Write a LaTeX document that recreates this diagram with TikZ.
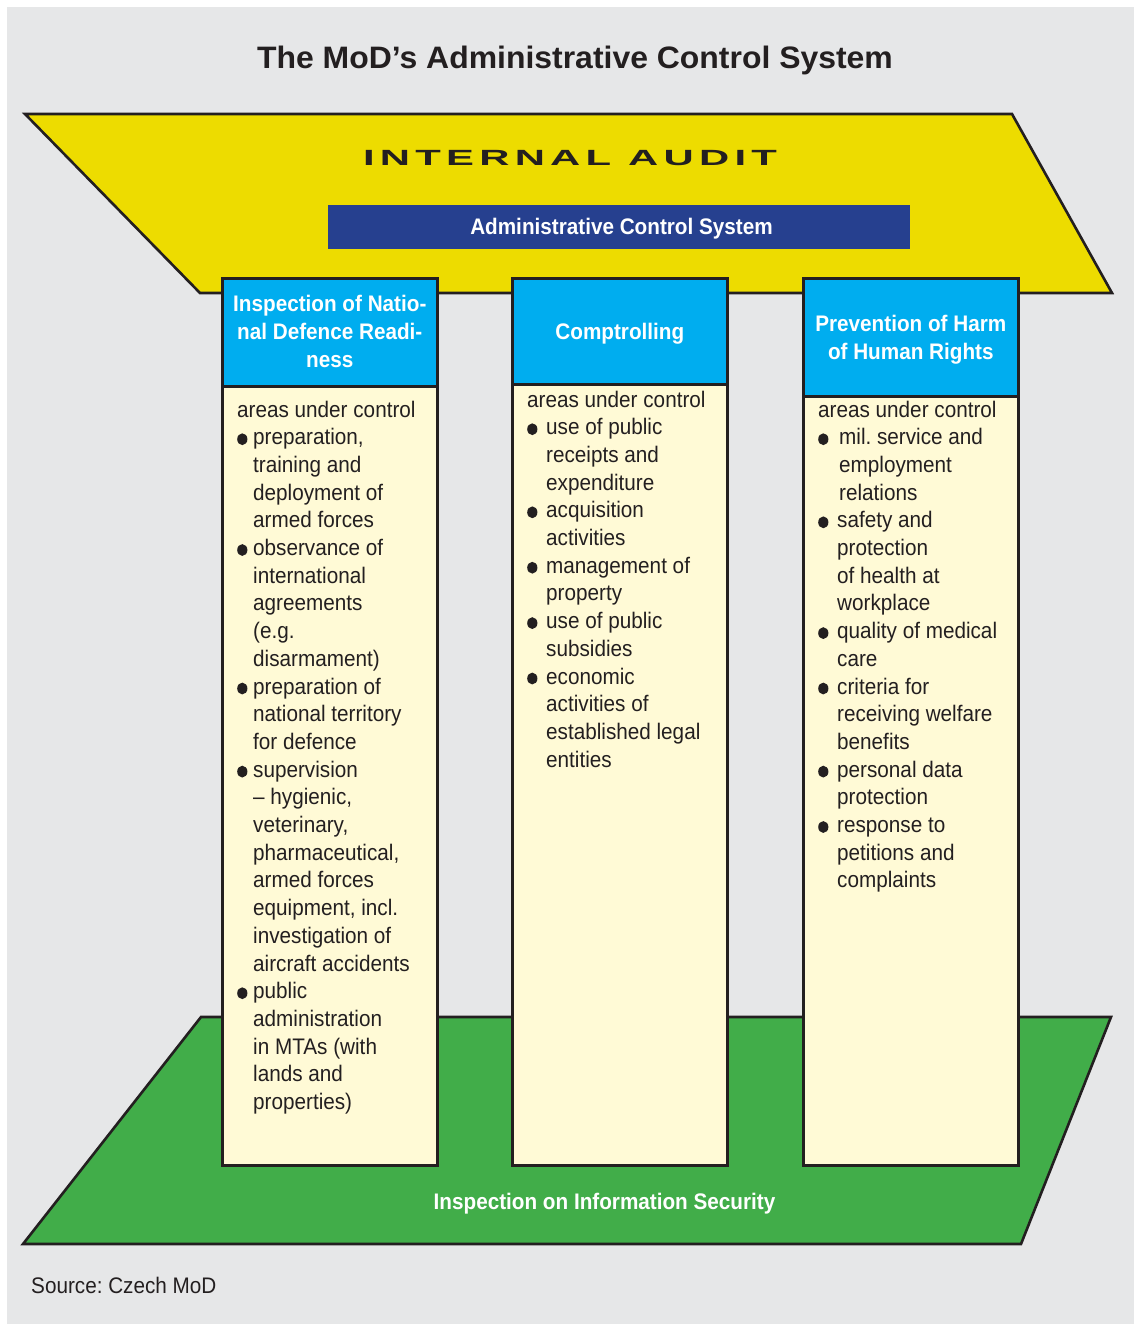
\documentclass[tikz,border=0pt]{standalone}
\usepackage{fontspec}
\setmainfont{Liberation Sans}
\newfontfamily\headfont{Liberation Sans}[FakeStretch=0.92]
\newfontfamily\bodyfont{Liberation Sans}[FakeStretch=0.92]
\newfontfamily\titlefont{Liberation Sans}[FakeStretch=1.03]
\newfontfamily\auditfont{Liberation Sans}[FakeStretch=1.9,LetterSpace=24]
\frenchspacing
\definecolor{bggray}{RGB}{230,231,232}
\definecolor{ayellow}{RGB}{237,220,0}
\definecolor{navy}{RGB}{38,64,143}
\definecolor{cyanb}{RGB}{0,173,239}
\definecolor{cream}{RGB}{255,250,214}
\definecolor{greenb}{RGB}{65,173,73}
\definecolor{edge}{RGB}{35,31,32}
\newcommand\bltdot{\tikz[baseline=-5.5pt]\fill[edge] (0pt,0pt) ellipse [x radius=5.1pt, y radius=5.9pt];}
\newcommand\bltA{\makebox[16pt][l]{\bltdot}}
\newcommand\bltB{\makebox[19pt][l]{\bltdot}}
\newcommand\bltC{\makebox[21pt][l]{\bltdot}}
\tikzset{
  trap/.style={draw=edge, line width=2.6pt, line join=miter},
  hdr/.style={draw=edge, line width=2.6pt, fill=cyanb, minimum width=215pt, inner sep=0pt},
  hdrtext/.style={inner sep=0pt, align=center, text=white, font=\headfont\bfseries\fontsize{22.5}{28}\selectfont},
  bodybox/.style={draw=edge, line width=2.6pt, fill=cream, minimum width=215pt, inner sep=0pt},
  bodytext/.style={inner sep=0pt, align=left, text=edge, font=\bodyfont\fontsize{22.5}{27.7}\selectfont},
  lbl/.style={inner sep=0pt, text=white, font=\headfont\bfseries\fontsize{22.5}{28}\selectfont}
}
\begin{document}
\begin{tikzpicture}[x=1pt,y=-1pt]
\useasboundingbox (0,0) rectangle (1134,1324);
\fill[white] (0,0) rectangle (1134,1324);
\fill[bggray] (7,7) rectangle (1134,1324);
% title
\node[inner sep=0pt, anchor=base, text=edge, font=\titlefont\bfseries\fontsize{31}{36}\selectfont] (title) at (575,68.5) {The MoD’s Administrative Control System};
% internal audit roof
\draw[trap, fill=ayellow] (25,114) -- (1012,114) -- (1112,293) -- (200,293) -- cycle;
\node[inner sep=0pt, anchor=base, text=edge, font=\auditfont\bfseries\fontsize{22}{24}\selectfont] (audit) at (570,166) {INTERNAL AUDIT};
\node[fill=navy, minimum width=582pt, minimum height=44pt, inner sep=0pt, anchor=north west] (acsbar) at (328,205) {};
\node[lbl, anchor=base] (acs) at (621.5,234.5) {Administrative Control System};
% information security floor
\draw[trap, fill=greenb] (201,1017) -- (1111,1017) -- (1021,1244) -- (23,1244) -- cycle;
\node[lbl, anchor=base] (infosec) at (604.5,1209.5) {Inspection on Information Security};
% column 1
\node[bodybox, minimum height=779pt, anchor=north west] (b1) at (221,385) {};
\node[hdr, minimum height=108pt, anchor=north west] (h1) at (221,277) {};
\node[hdrtext, yshift=1pt] (h1t) at (h1.center) {Inspection of Natio-\\nal Defence Readi-\\ness};
\node[bodytext, anchor=north west] (t1) at (237,400.5) {areas under control\\
\bltA preparation,\\
\hspace*{16pt}training and\\
\hspace*{16pt}deployment of\\
\hspace*{16pt}armed forces\\
\bltA observance of\\
\hspace*{16pt}international\\
\hspace*{16pt}agreements\\
\hspace*{16pt}(e.g.\\
\hspace*{16pt}disarmament)\\
\bltA preparation of\\
\hspace*{16pt}national territory\\
\hspace*{16pt}for defence\\
\bltA supervision\\
\hspace*{16pt}– hygienic,\\
\hspace*{16pt}veterinary,\\
\hspace*{16pt}pharmaceutical,\\
\hspace*{16pt}armed forces\\
\hspace*{16pt}equipment, incl.\\
\hspace*{16pt}investigation of\\
\hspace*{16pt}aircraft accidents\\
\bltA public\\
\hspace*{16pt}administration\\
\hspace*{16pt}in MTAs (with\\
\hspace*{16pt}lands and\\
\hspace*{16pt}properties)};
% column 2
\node[bodybox, minimum height=781pt, anchor=north west] (b2) at (511,383) {};
\node[hdr, minimum height=106pt, anchor=north west] (h2) at (511,277) {};
\node[hdrtext, yshift=-2pt] (h2t) at (h2.center) {Comptrolling};
\node[bodytext, anchor=north west] (t2) at (527,390.5) {areas under control\\
\bltB use of public\\
\hspace*{19pt}receipts and\\
\hspace*{19pt}expenditure\\
\bltB acquisition\\
\hspace*{19pt}activities\\
\bltB management of\\
\hspace*{19pt}property\\
\bltB use of public\\
\hspace*{19pt}subsidies\\
\bltB economic\\
\hspace*{19pt}activities of\\
\hspace*{19pt}established legal\\
\hspace*{19pt}entities};
% column 3
\node[bodybox, minimum height=769pt, anchor=north west] (b3) at (802,395) {};
\node[hdr, minimum height=118pt, anchor=north west] (h3) at (802,277) {};
\node[hdrtext, yshift=-2pt] (h3t) at (h3.center) {Prevention of Harm\\of Human Rights};
\node[bodytext, anchor=north west] (t3) at (818,400.5) {areas under control\\
\bltC mil. service and\\
\hspace*{21pt}employment\\
\hspace*{21pt}relations\\
\bltB safety and\\
\hspace*{19pt}protection\\
\hspace*{19pt}of health at\\
\hspace*{19pt}workplace\\
\bltB quality of medical\\
\hspace*{19pt}care\\
\bltB criteria for\\
\hspace*{19pt}receiving welfare\\
\hspace*{19pt}benefits\\
\bltB personal data\\
\hspace*{19pt}protection\\
\bltB response to\\
\hspace*{19pt}petitions and\\
\hspace*{19pt}complaints};
% source
\node[inner sep=0pt, anchor=base west, text=edge, font=\bodyfont\fontsize{22.5}{27}\selectfont] (src) at (31,1293) {Source: Czech MoD};
\end{tikzpicture}
\end{document}
